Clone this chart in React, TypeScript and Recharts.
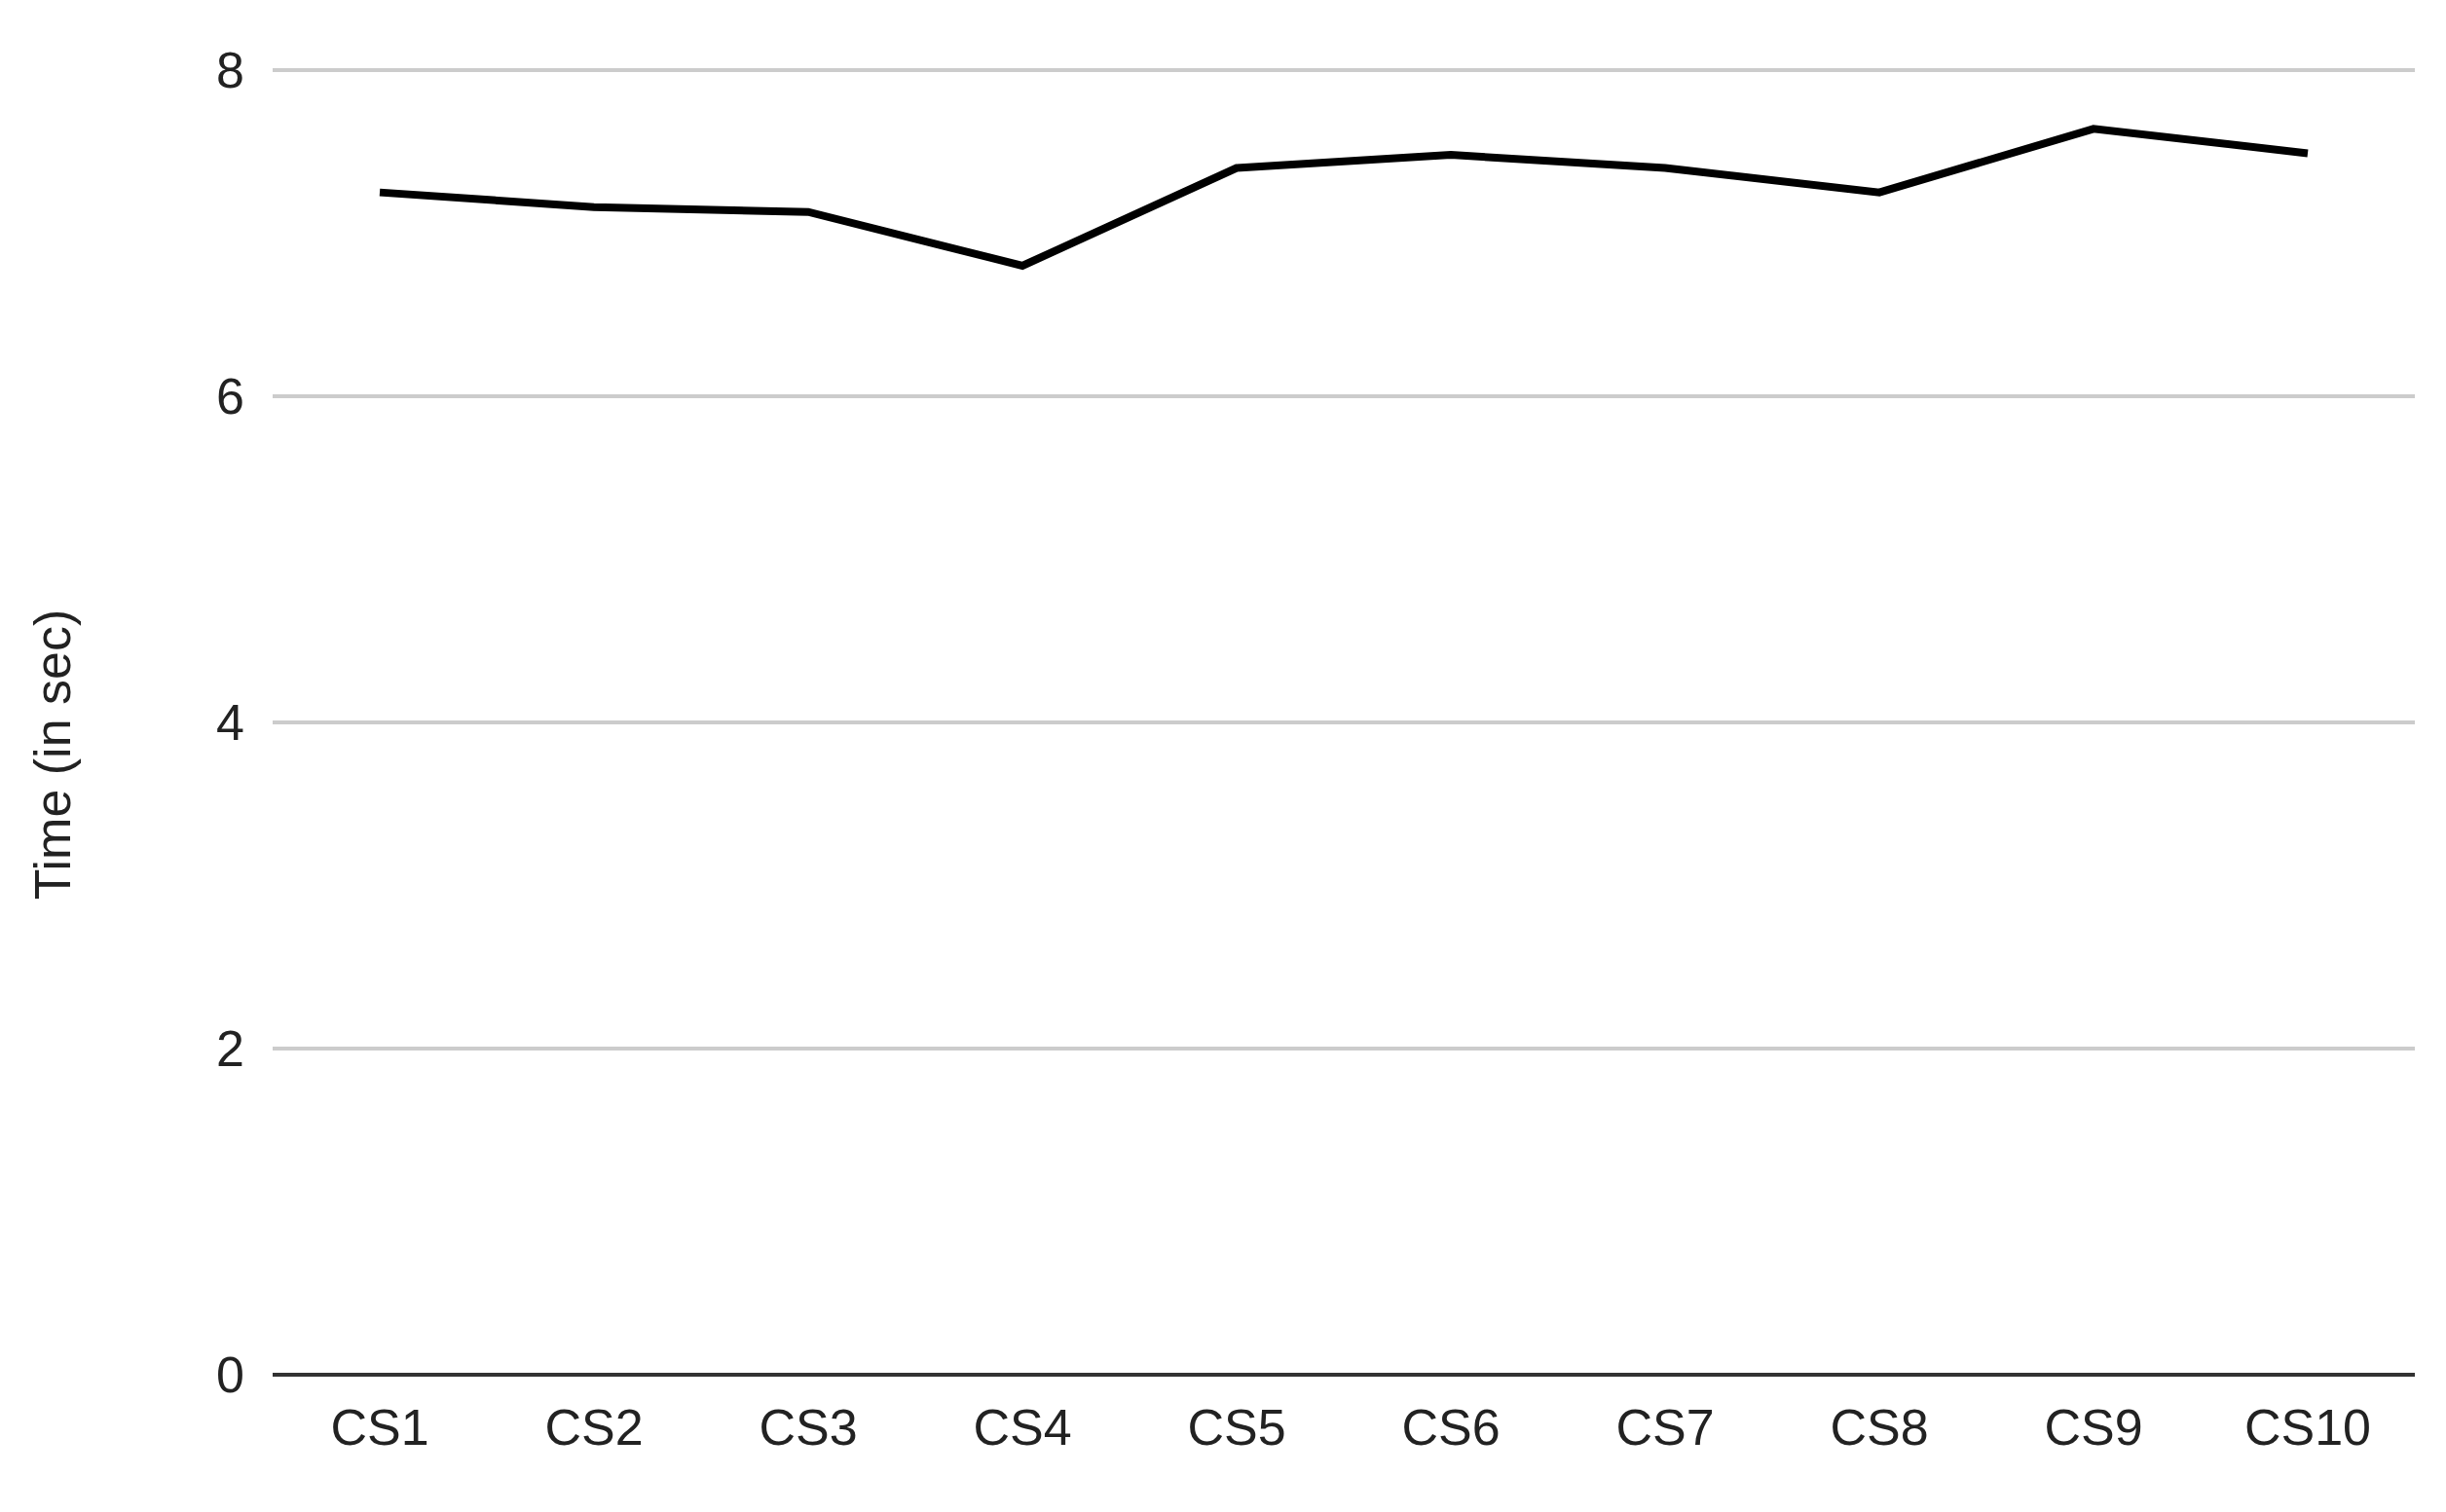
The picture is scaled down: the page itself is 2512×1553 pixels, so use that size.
import { CartesianGrid, Line, LineChart, XAxis, YAxis } from "recharts";

const categories = ["CS1", "CS2", "CS3", "CS4", "CS5", "CS6", "CS7", "CS8", "CS9", "CS10"];
const timeValues = [7.25, 7.16, 7.13, 6.8, 7.4, 7.48, 7.4, 7.25, 7.64, 7.49];
const yTicks = [0, 2, 4, 6, 8];

const chartData = categories.map((name, i) => ({ name, time: timeValues[i] }));

const FONT = "'Liberation Sans', Arial, sans-serif";
const tickStyle = { fontSize: 52, fill: "#222", fontFamily: FONT };

function YTitle() {
  // rotated axis title, centred on the whole picture height like the source
  return (
    <text
      x={72}
      y={775}
      transform="rotate(-90 72 775)"
      textAnchor="middle"
      fontSize={52}
      fill="#222"
      fontFamily={FONT}
    >
      Time (in sec)
    </text>
  );
}

export default function App() {
  return (
    <div style={{ position: "absolute", left: 0, top: 0, background: "#fff" }}>
      <LineChart
        width={2512}
        height={1553}
        data={chartData}
        margin={{ top: 72, right: 32, bottom: 0, left: 0 }}
        style={{ fontFamily: FONT }}
      >
        <CartesianGrid vertical={false} stroke="#cccccc" strokeWidth={4} />
        <XAxis
          dataKey="name"
          padding={{ left: 110, right: 110 }}
          tickLine={false}
          tickSize={0}
          tickMargin={35}
          axisLine={{ stroke: "#333", strokeWidth: 4 }}
          tick={tickStyle}
          height={141}
        />
        <YAxis
          width={280}
          domain={[0, 8]}
          ticks={yTicks}
          tickLine={false}
          axisLine={false}
          tickSize={0}
          tickMargin={29}
          tick={tickStyle}
          label={{ content: () => <YTitle /> }}
        />
        <Line
          type="linear"
          dataKey="time"
          stroke="#000"
          strokeWidth={8}
          dot={false}
          activeDot={false}
          isAnimationActive={false}
        />
      </LineChart>
    </div>
  );
}
